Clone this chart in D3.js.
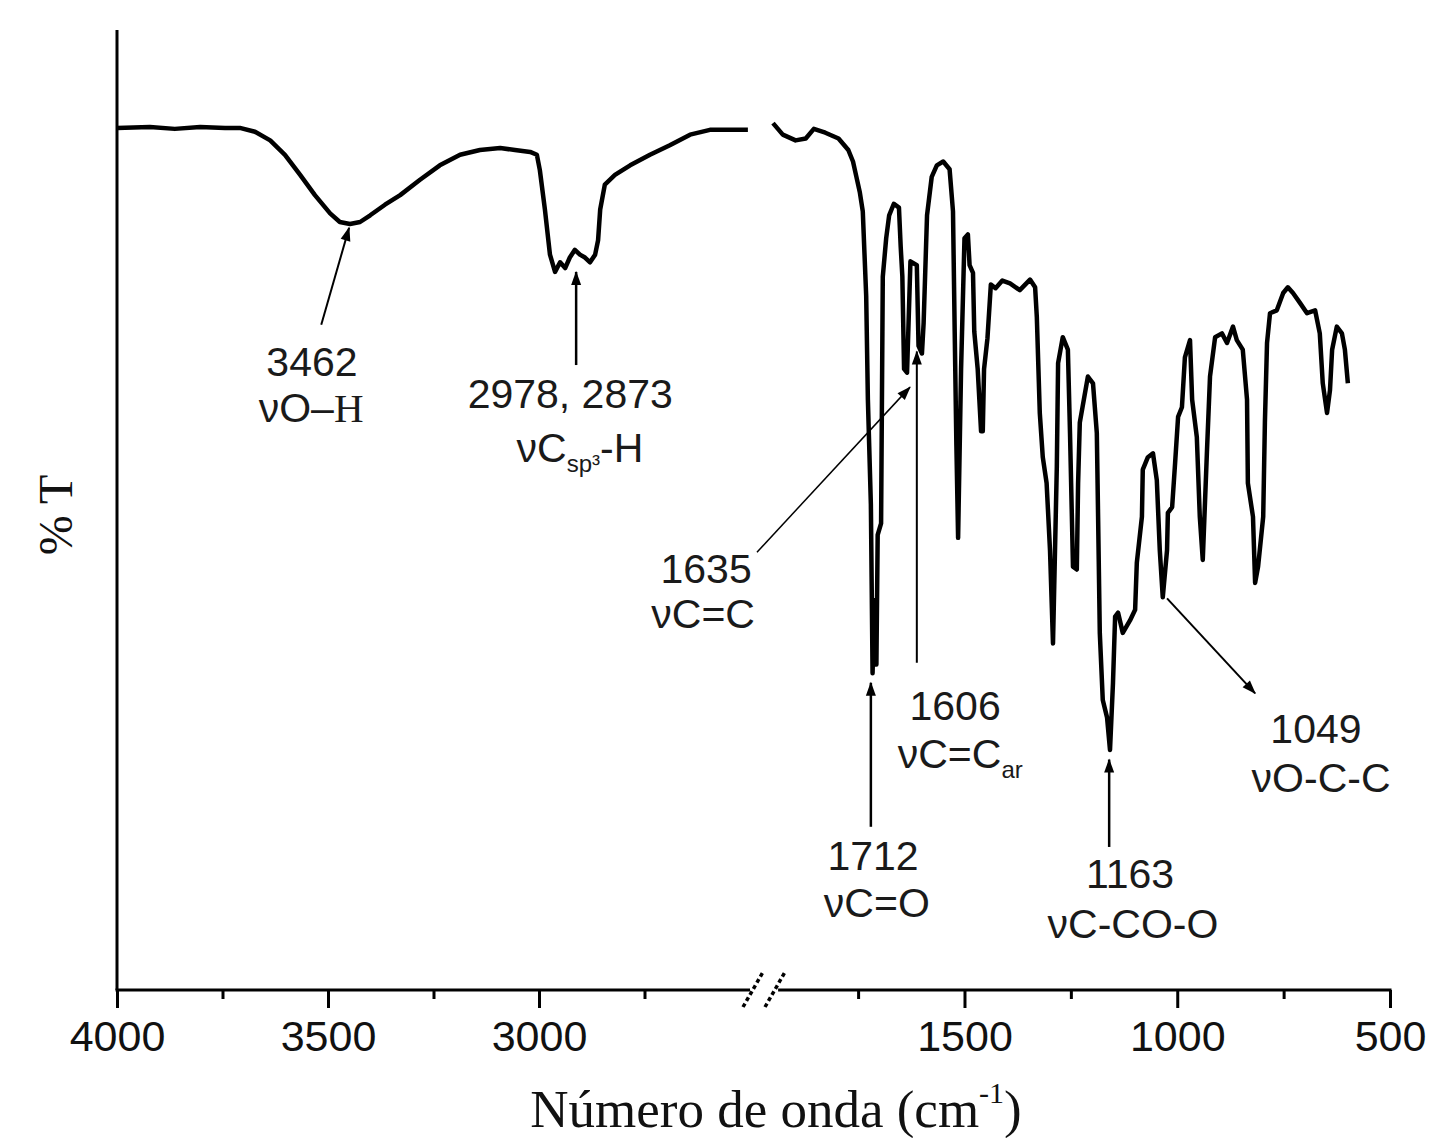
<!DOCTYPE html>
<html>
<head>
<meta charset="utf-8">
<script src="https://cdn.jsdelivr.net/npm/d3@7"></script>
<style>
  body { margin:0; background:#fff; }
  .spec { fill:none; stroke:#000; stroke-width:4.5; stroke-linejoin:round; }
  .axis-line { stroke:#000; stroke-width:3; }
  .tick line { stroke:#000; stroke-width:3; }
  .tick text { font-family:"Liberation Sans", Arial, sans-serif; font-size:43px; fill:#111; }
  .note { font-family:"Liberation Sans", Arial, sans-serif; font-size:41px; fill:#1a1a1a; text-anchor:middle; }
  .lead { stroke:#000; fill:none; }
  .title { font-family:"Liberation Serif", "Times New Roman", serif; fill:#111; }
</style>
</head>
<body>
<svg id="chart" width="1432" height="1138"></svg>
<script>
// spectrum, high wavenumber part (before the axis break)
var leftWave = [4000,3922,3863,3803,3744,3709,3673,3637,3602,3566,3531,3495,3472,3448,3424,3400,
  3365,3329,3282,3235,3187,3140,3092,3057,3021,3005,2998,2986,2974,2962,2950,2938,2927,2915,2903,
  2891,2879,2867,2860,2855,2844,2820,2784,2737,2690,2642,2595,2547,2505];
var leftT = [89.8,89.9,89.7,89.9,89.8,89.8,89.4,88.5,87.0,84.9,82.8,80.9,80.0,79.8,80.0,80.7,
  81.8,82.8,84.4,85.9,87.0,87.5,87.7,87.5,87.3,87.0,85.4,81.3,76.6,74.8,75.8,75.2,76.3,77.1,76.6,
  76.3,75.8,76.6,78.1,81.3,83.9,84.9,85.9,87.0,88.0,89.1,89.6,89.6,89.6];

// spectrum, fingerprint part (after the break)
var rightWave = [1950,1927,1897,1873,1854,1827,1796,1773,1762,1754,1746,1739,1735,1731,1727,1720,
  1716,1712,1707,1704,1696,1692,1684,1677,1666,1654,1650,1646,1642,1635,1627,1612,1608,1600,1596,
  1588,1577,1565,1550,1535,1527,1523,1519,1515,1508,1500,1492,1488,1480,1477,1469,1461,1457,1454,
  1446,1438,1427,1411,1393,1370,1346,1334,1330,1323,1316,1307,1299,1292,1283,1280,1269,1257,1252,
  1245,1236,1233,1229,1210,1198,1189,1186,1182,1175,1165,1158,1151,1146,1139,1128,1111,1099,1095,
  1083,1081,1069,1057,1048,1041,1034,1024,1022,1012,1005,998,989,982,970,965,954,947,940,930,923,
  911,895,883,869,860,846,836,834,822,817,810,798,794,789,782,766,751,740,728,712,695,676,665,658,
  648,641,636,625,613,606,599];
var rightT = [90.3,89.1,88.5,88.7,89.7,89.3,88.7,87.5,86.3,84.7,83.1,81.1,76.7,72.3,61.5,50.6,
  33.0,40.6,33.9,47.4,48.6,74.3,78.3,80.7,81.9,81.5,77.5,74.3,64.7,64.3,75.9,75.5,67.1,66.3,69.5,
  80.7,84.7,85.9,86.3,85.5,81.1,68.6,56.7,47.1,64.7,78.3,78.7,75.5,74.7,68.6,64.7,58.2,58.2,64.7,
  67.9,73.5,73.1,73.9,73.6,72.9,74.0,73.2,70.1,60.1,55.5,52.8,45.8,36.1,54.5,65.3,68.0,66.7,58.0,
  44.1,43.8,52.8,59.1,63.9,63.2,58.0,49.3,37.2,30.2,28.4,25.0,32.0,38.9,39.3,37.2,38.5,39.6,44.5,
  49.3,54.2,55.5,55.9,53.1,45.8,40.9,45.8,49.7,50.3,54.9,59.7,60.7,65.9,67.7,61.5,57.6,49.3,44.8,56.3,63.9,
  68.0,68.4,67.4,69.1,67.7,66.7,61.5,52.8,49.3,42.4,44.1,49.3,59.1,67.4,70.5,70.8,72.6,73.2,72.6,71.6,70.5,70.8,68.4,63.2,
  60.1,62.5,66.7,69.1,68.4,66.7,63.2];

var majorTicks = [4000,3500,3000,1500,1000,500];
var minorTicks = [3750,3250,2750,1750,1250,750];

// band assignments
var noteLabels = ["3462","2978, 2873","1635","1606","1712","1163","1049"];
var noteModes = [["νO–","","H"],["νC","sp³","-H"],["νC=C","",""],["νC=C","ar",""],["νC=O","",""],["νC-CO-O","",""],["νO-C-C","",""]];
// where the texts sit (wavenumber, %T)
var labelAt = [[3538,64.0],[2926,60.6],[2604,42.4],[1522,28.1],[1715,12.5],[1111,10.6],[674,25.7]];
var modeAt  = [[3540,59.2],[2903,55.0],[2611,37.7],[1510,23.1],[1706,7.6],[1104,5.4],[662,20.6]];
// leader arrows, tail -> head
var arrowFrom = [[3516,69.3],[2912,65.1],[2333,45.6],[1612,34.1],[1720,17.0],[1160,14.9],[1024,40.8]];
var arrowTo   = [[3450,79.4],[2912,74.8],[1628,62.8],[1612,66.5],[1720,32.0],[1160,24.0],[817,30.9]];
var arrowWidth = [2,2.5,1.5,2,2.5,2.5,2];

var svg = d3.select("#chart");

var x = d3.scaleLinear().domain([4000,2500,1950,500]).range([117,750,773,1390]);
var y = d3.scaleLinear().domain([0,100]).range([990,30]);

var defs = svg.append("defs");
defs.append("marker")
  .attr("id","head")
  .attr("viewBox","-14 -6 16 12")
  .attr("refX",0).attr("refY",0)
  .attr("markerWidth",16).attr("markerHeight",12)
  .attr("markerUnits","userSpaceOnUse")
  .attr("orient","auto")
  .append("path").attr("d","M1,0 L-13,-5 L-13,5 Z").attr("fill","#000");

// axes
svg.append("line").attr("class","axis-line")
  .attr("x1",x(4000)).attr("x2",x(4000)).attr("y1",y(100)).attr("y2",y(0));
svg.append("line").attr("class","axis-line")
  .attr("x1",x(4000)-1.5).attr("x2",x(2500)).attr("y1",y(0)).attr("y2",y(0));
svg.append("line").attr("class","axis-line")
  .attr("x1",x(1938)).attr("x2",x(500)+1.5).attr("y1",y(0)).attr("y2",y(0));

var gx = svg.append("g").attr("transform","translate(0," + y(0) + ")")
  .call(d3.axisBottom(x).tickValues(majorTicks).tickSize(18).tickPadding(12).tickFormat(d3.format("d")));
gx.select(".domain").remove();
var gm = svg.append("g").attr("transform","translate(0," + y(0) + ")")
  .call(d3.axisBottom(x).tickValues(minorTicks).tickSize(9).tickFormat(""));
gm.select(".domain").remove();

// break marks
[x(2500)+3, x(1950)+2].forEach(function(cx){
  svg.append("line")
    .attr("x1",cx-10).attr("y1",y(0)+17).attr("x2",cx+10).attr("y2",y(0)-18)
    .attr("stroke","#000").attr("stroke-width",3.5).attr("stroke-dasharray","4,3");
});

// spectrum
var line = d3.line().x(function(d){return x(d[0])}).y(function(d){return y(d[1])});
svg.append("path").attr("class","spec").attr("d",line(d3.zip(leftWave,leftT)));
svg.append("path").attr("class","spec").attr("d",line(d3.zip(rightWave,rightT)));

// leaders
noteLabels.forEach(function(lab,i){
  svg.append("line").attr("class","lead")
    .attr("x1",x(arrowFrom[i][0])).attr("y1",y(arrowFrom[i][1]))
    .attr("x2",x(arrowTo[i][0])).attr("y2",y(arrowTo[i][1]))
    .attr("stroke-width",arrowWidth[i])
    .attr("marker-end","url(#head)");

  svg.append("text").attr("class","note")
    .attr("x",x(labelAt[i][0])).attr("y",y(labelAt[i][1]))
    .text(lab);

  var m = noteModes[i];
  var t = svg.append("text").attr("class","note")
    .attr("x",x(modeAt[i][0])).attr("y",y(modeAt[i][1]));
  t.append("tspan").text(m[0]);
  if(m[1]) t.append("tspan").attr("dy",10).attr("font-size",24).text(m[1]);
  if(m[2]){
    var tail = t.append("tspan").attr("dy", m[1] ? -10 : 0).text(m[2]);
    if(i == 0) tail.attr("font-family","'Liberation Serif', serif");
  }
});

// titles
var xt = svg.append("text").attr("class","title")
  .attr("x",776).attr("y",1127).attr("text-anchor","middle").attr("font-size",53);
xt.append("tspan").text("Número de onda (cm");
xt.append("tspan").attr("dy",-24).attr("font-size",30).text("-1");
xt.append("tspan").attr("dy",24).text(")");

svg.append("text").attr("class","title")
  .attr("transform","translate(72,515) rotate(-90)")
  .attr("text-anchor","middle").attr("font-size",48)
  .text("% T");
</script>
</body>
</html>
